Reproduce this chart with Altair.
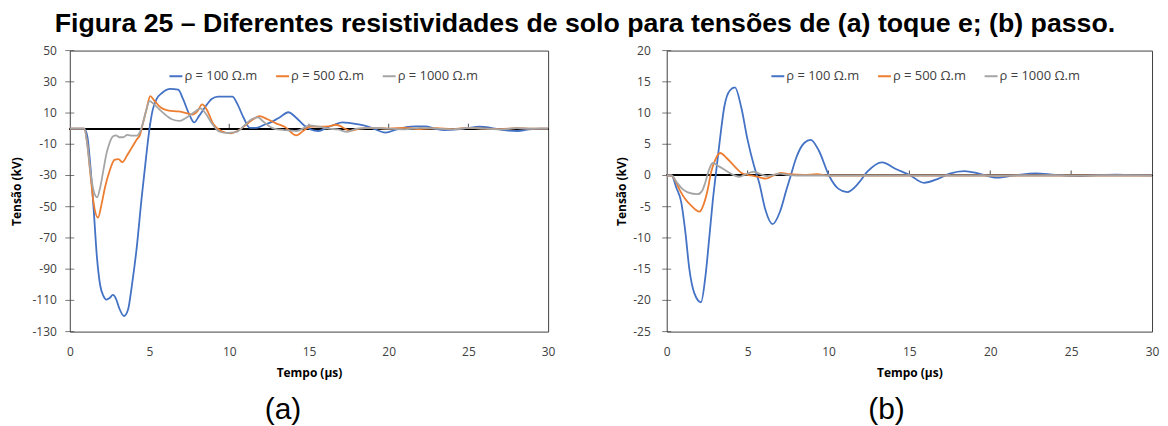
import altair as alt
import pandas as pd

SERIES = ["ρ = 100 Ω.m", "ρ = 500 Ω.m", "ρ = 1000 Ω.m"]
COLORS = ["#4472C4", "#ED7D31", "#A5A5A5"]
X_TICKS = [0, 5, 10, 15, 20, 25, 30]
X_INNER_TICKS = [5, 10, 15, 20, 25]

# ---- (a) toque ----
ta_100 = [0, 0.5, 0.9, 1.1, 1.3, 1.5, 1.7, 1.9, 2.1, 2.3, 2.5, 2.7, 2.9, 3.1, 3.4, 3.65, 3.9, 4.2, 4.5, 4.8,
          5.0, 5.2, 5.45, 5.8, 6.3, 6.8, 7.1, 7.5, 7.8, 8.1, 8.5, 8.9, 9.3, 9.8, 10.2, 10.5, 10.9, 11.3, 11.7, 12.2,
          12.7, 13.2, 13.7, 14.2, 14.7, 15.1, 15.6, 16.1, 16.6, 17.1, 17.6, 18.2, 18.8, 19.8, 20.5, 21.1, 21.7, 22.3,
          22.9, 23.5, 24.3, 25.0, 25.7, 26.4, 27.2, 28.1, 28.8, 29.5, 30]
va_100 = [0, 0, 0, -5, -25, -52, -82, -100, -107, -109.5, -108.5, -106.5, -109, -115, -120, -116, -100, -76, -45, -17,
          0, 12, 19, 23, 25.5, 25, 19, 9, 4, 8, 14, 19, 20.5, 20.5, 20.5, 16, 7, 0.5, 0.5, 2.5,
          4.5, 7.5, 10.5, 7, 2, -0.5, -1.5, 0.5, 2.5, 4, 3.5, 2.5, 1, -2.5, -0.5, 1, 1.5, 1.5,
          0, -1, -0.5, 0.5, 1.2, 0.5, -1, -1.5, -0.5, 0, 0]
ta_500 = [0, 0.5, 0.9, 1.1, 1.3, 1.5, 1.77, 2.0, 2.2, 2.5, 2.8, 3.05, 3.3, 3.6, 3.9, 4.2, 4.4, 4.6, 4.8, 5.05,
          5.3, 5.7, 6.2, 6.8, 7.3, 7.7, 8.0, 8.3, 8.6, 9.0, 9.5, 10.1, 10.6, 11.0, 11.5, 11.9, 12.4, 12.9, 13.5, 14.2,
          14.7, 15.1, 15.7, 16.2, 16.7, 17.6, 18.2, 19, 20, 21, 22, 23, 24, 25, 26, 27, 28, 29, 30]
va_500 = [0, 0, 0, -10, -30, -48, -57, -48, -38, -27, -20, -19.5, -21.5, -17, -12, -7, -4, 4, 12, 20.8,
          18, 13.5, 11.5, 11, 10, 9, 11, 15.5, 12, 3, -1.5, -3, -1, 2, 6, 8, 6, 3.5, 1, -4.3,
          -1, 1.3, 1.3, 1.5, 2.5, -1.3, 0, 0.5, 0, 0.5, -0.3, 0.3, -0.3, 0.5, 0, -0.3, 0.3, 0, 0]
ta_1000 = [0, 0.5, 0.9, 1.1, 1.3, 1.5, 1.71, 1.9, 2.1, 2.3, 2.5, 2.7, 2.9, 3.1, 3.35, 3.6, 3.9, 4.2, 4.4, 4.6,
           4.8, 5.0, 5.3, 5.7, 6.1, 6.4, 6.9, 7.3, 7.8, 8.2, 8.5, 8.9, 9.4, 9.9, 10.4, 10.9, 11.4, 11.8, 12.2, 12.8,
           13.5, 14.2, 14.7, 15.0, 15.6, 16.2, 16.8, 17.4, 18, 19, 20, 21, 22, 23, 24, 25, 26, 27, 28, 29, 30]
va_1000 = [0, 0, 0, -10, -28, -40, -44, -38, -27, -16, -9, -5, -4.3, -5.5, -5.5, -4, -4.5, -4.5, -2, 4,
           12, 17.6, 15.5, 11.5, 8, 6, 5, 7, 10.5, 13, 10, 3.5, -2, -2.8, -2.3, 1.5, 6, 7.2, 4, 0,
           -1, -1.5, 0.5, 2.1, 1.3, 0, -0.5, -2, 0, 0.5, 0, -0.5, 0.5, 0, -0.5, 0.5, 0, -0.5, 0.3, 0, 0]
ya_ticks = [-130, -110, -90, -70, -50, -30, -10, 10, 30, 50]

# ---- (b) passo ----
tb_100 = [0, 0.3, 0.6, 0.9, 1.15, 1.4, 1.7, 2.12, 2.4, 2.64, 2.85, 3.05, 3.3, 3.56, 3.9, 4.22, 4.6, 5.0, 5.4, 5.72,
          6.1, 6.54, 7.0, 7.4, 7.67, 8.0, 8.5, 8.9, 9.4, 10.03, 10.6, 11.16, 11.8, 12.4, 13.3, 14.2, 15.06, 15.9, 16.8,
          17.5, 18.4, 19.3, 20.4, 21.5, 22.8, 24.0, 25.4, 26.6, 27.8, 29, 30]
vb_100 = [0, 0, -2, -4.3, -9, -15, -18.8, -20.3, -16, -9.7, -4, 0.5, 6, 11, 13.6, 14.1, 11, 5.7, 1.5, -1.2,
          -5.5, -7.8, -5.8, -2.3, 0, 2.8, 5.2, 5.7, 4, 0, -2.1, -2.65, -1.4, 0.6, 2.1, 1.0, 0, -1.17, -0.5,
          0.3, 0.7, 0.3, -0.35, 0, 0.35, 0.1, -0.1, 0.05, 0.15, 0.05, 0]
tb_500 = [0, 0.3, 0.5, 0.8, 1.1, 1.5, 2.02, 2.3, 2.54, 2.74, 3.0, 3.31, 3.7, 4.18, 4.7, 5.2, 5.6, 6.13, 6.6, 7.05,
          7.6, 8.5, 9.3, 10, 12, 30]
vb_500 = [0, 0, -0.7, -2.3, -3.6, -4.8, -5.8, -4.5, -2.2, 0.5, 2.5, 3.6, 2.8, 1.5, 0.3, 0.0, -0.2, -0.5, 0, 0.4,
          0.2, 0.1, 0.2, 0, 0, 0]
tb_1000 = [0, 0.3, 0.6, 0.9, 1.3, 1.92, 2.2, 2.4, 2.6, 2.84, 3.2, 3.77, 4.1, 4.48, 4.9, 5.37, 5.8, 6.2, 6.6, 7.0,
           7.5, 8, 12, 30]
vb_1000 = [0, 0, -1, -2.0, -2.7, -3.0, -2.4, -1, 0.8, 2.0, 1.5, 0.6, 0.1, -0.2, 0.2, 0.6, 0.2, -0.1, 0.1, 0.3,
           0.1, 0, 0, 0]
yb_ticks = [-25, -20, -15, -10, -5, 0, 5, 10, 15, 20]


def make_df(pairs):
    rows = []
    for name, (ts, vs) in zip(SERIES, pairs):
        assert len(ts) == len(vs), name
        for i, (t, v) in enumerate(zip(ts, vs)):
            rows.append({"serie": name, "t": t, "v": v, "i": i})
    return pd.DataFrame(rows)


df_a = make_df([(ta_100, va_100), (ta_500, va_500), (ta_1000, va_1000)])
df_b = make_df([(tb_100, vb_100), (tb_500, vb_500), (tb_1000, vb_1000)])

FONT = "Open Sans"
LABEL_COLOR = "#404040"


def panel(df, ydom, yticks, width, extent, label_dx, legx, letter, dx):
    xsc = alt.Scale(domain=[0, 30], nice=False, zero=False)
    ysc = alt.Scale(domain=ydom, nice=False, zero=False)
    xax = alt.Axis(values=X_TICKS, title="Tempo (µs)", ticks=False, tickSize=0, domain=False, grid=False,
                   labelFlush=False, labelOverlap=False, labelPadding=15, titlePadding=10, labelFont=FONT,
                   labelFontSize=12, labelColor=LABEL_COLOR, titleFont=FONT, titleFontSize=12,
                   titleFontWeight="bold", titleColor="#000000")
    yax = alt.Axis(values=yticks, title="Tensão (kV)", ticks=False, tickSize=0, domain=False, grid=False,
                   labels=False, titlePadding=7, minExtent=extent, maxExtent=extent,
                   titleFont=FONT, titleFontSize=12, titleFontWeight="bold", titleColor="#000000")

    tick_df = pd.DataFrame({"v": yticks, "lab": [str(v) for v in yticks]})

    zero = alt.Chart(df).mark_rule(color="#000000", strokeWidth=1).encode(
        y=alt.datum(0, scale=ysc, axis=yax)
    )
    xt = alt.Chart(pd.DataFrame({"t": X_INNER_TICKS})).mark_tick(
        orient="vertical", size=5, thickness=1, yOffset=-2.5, color="#000000"
    ).encode(x=alt.X("t:Q", scale=xsc, axis=xax), y=alt.datum(0))
    yt = alt.Chart(tick_df).mark_tick(
        orient="horizontal", size=9, thickness=1, color="#404040"
    ).encode(y=alt.Y("v:Q", scale=ysc, axis=yax), x=alt.datum(0))
    ylab = alt.Chart(tick_df).mark_text(
        align="right", baseline="middle", dx=label_dx, font=FONT, fontSize=12, color=LABEL_COLOR
    ).encode(y=alt.Y("v:Q", scale=ysc, axis=yax), x=alt.datum(0), text="lab:N")
    lines = alt.Chart(df).mark_line(interpolate="monotone", strokeWidth=1.8).encode(
        x=alt.X("t:Q", scale=xsc, axis=xax),
        y=alt.Y("v:Q", scale=ysc, axis=yax),
        color=alt.Color("serie:N", scale=alt.Scale(domain=SERIES, range=COLORS), sort=SERIES,
                        legend=alt.Legend(title=None, orient="none", direction="horizontal",
                                          legendX=legx, legendY=18, symbolType="stroke",
                                          symbolSize=169, symbolStrokeWidth=2, labelOffset=1,
                                          columnPadding=14, padding=0, labelFont=FONT,
                                          labelFontSize=13, labelColor=LABEL_COLOR)),
        order="i:Q",
    )
    return alt.layer(zero, xt, yt, ylab, lines).properties(
        width=width, height=282,
        title=alt.TitleParams(text=letter, orient="bottom", anchor="middle", dx=dx, fontSize=30,
                              font="Liberation Sans", fontWeight="normal", offset=17, baseline="top",
                              color="#000000"),
    )


left = panel(df_a, [-130, 50], ya_ticks, 480, 39, -13, 99, "(a)", -26)
right = panel(df_b, [-25, 20], yb_ticks, 487, 31, -16, 104, "(b)", -23)

chart = alt.hconcat(left, right, spacing=59).properties(
    title=alt.TitleParams(
        text="Figura 25 – Diferentes resistividades de solo para tensões de (a) toque e; (b) passo.",
        font="Liberation Sans", fontSize=26.8, fontWeight="bold", anchor="middle", offset=6.5, color="#000000"),
    padding={"left": 2, "top": 2, "right": 0, "bottom": 0},
).configure_view(stroke="#404040", strokeWidth=1).resolve_scale(color="independent")

chart.save("out.html", embed_options={"renderer": "svg", "actions": False})
